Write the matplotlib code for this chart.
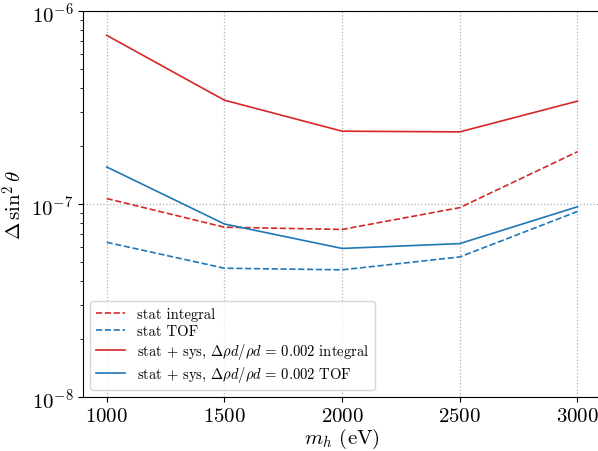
import matplotlib
matplotlib.use("Agg")
import matplotlib.pyplot as plt
import numpy as np

plt.rcParams['font.family'] = 'serif'
plt.rcParams['font.serif'] = ['cmr10', 'DejaVu Serif']
plt.rcParams['mathtext.fontset'] = 'cm'
plt.rcParams['axes.formatter.use_mathtext'] = True
plt.rcParams['axes.unicode_minus'] = False

mass = [1000, 1500, 2000, 2500, 3000]
stat_integral = [1.07e-7, 7.6e-8, 7.4e-8, 9.6e-8, 1.87e-7]
stat_tof = [6.35e-8, 4.66e-8, 4.57e-8, 5.33e-8, 9.17e-8]
sys_integral = [7.5e-7, 3.46e-7, 2.39e-7, 2.37e-7, 3.42e-7]
sys_tof = [1.56e-7, 7.9e-8, 5.9e-8, 6.25e-8, 9.7e-8]

red = '#d62728'
blue = '#1f77b4'

fig = plt.figure(figsize=(5.98, 4.52), dpi=100)
ax = fig.add_axes([0.139, 0.119, 0.866, 0.854])
ax.plot(mass, stat_integral, '--', color=red, lw=1.2, label='stat integral')
ax.plot(mass, stat_tof, '--', color=blue, lw=1.2, label='stat TOF')
ax.plot(mass, sys_integral, '-', color=red, lw=1.2, label=r'stat + sys, $\Delta\rho d/\rho d\,=\,0.002$ integral')
ax.plot(mass, sys_tof, '-', color=blue, lw=1.2, label=r'stat + sys, $\Delta\rho d/\rho d\,=\,0.002$ TOF')
ax.set_yscale('log')
ax.set_ylim(1e-8, 1e-6)
ax.set_xlim(900, 3100)
ax.set_xticks(mass)
ax.grid(True, which='major', linestyle=':', color='#b0b0b0', lw=0.9)
ax.tick_params(labelsize=15)
ax.set_xlabel(r'$m_h$ (eV)', fontsize=15, labelpad=1)
ax.set_ylabel(r'$\Delta\,\sin^2\theta$', fontsize=15)
ax.legend(loc='lower left', fontsize=10.5, handlelength=2.0, labelspacing=0.22,
          borderaxespad=0.5)
fig.savefig('out.png', dpi=100)
